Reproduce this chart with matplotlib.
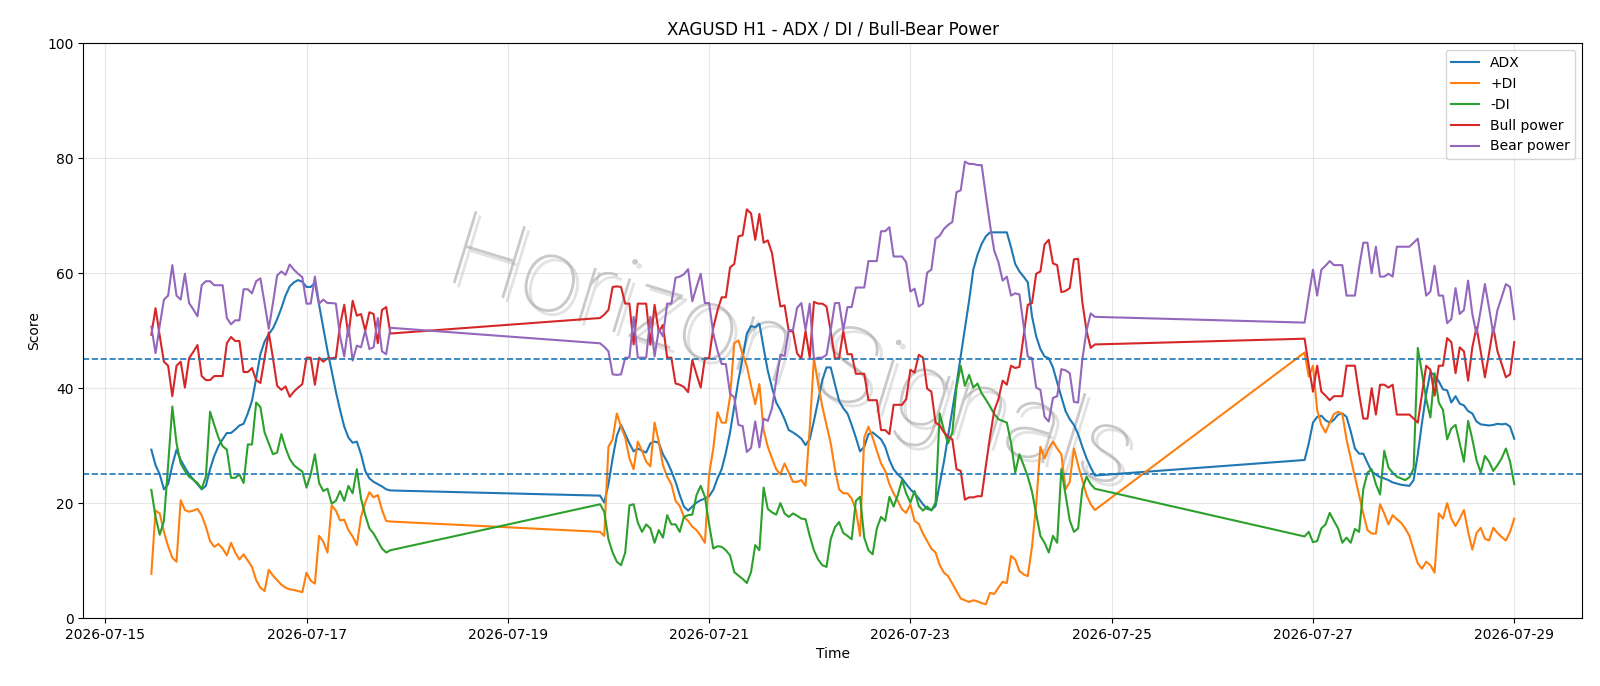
import matplotlib
matplotlib.use("Agg")
import matplotlib.pyplot as plt
import matplotlib.dates as mdates
import matplotlib.patheffects as pe
import pandas as pd

# hourly bars, three trading stretches (weekends have no bars)
times_a = pd.date_range("2026-07-15 11:00", "2026-07-17 20:00", freq="h")
times_b = pd.date_range("2026-07-19 22:00", "2026-07-24 20:00", freq="h")
times_c = pd.date_range("2026-07-26 22:00", "2026-07-29 00:00", freq="h")

adx_a = [29.3, 26.6, 25.0, 22.4, 23.3, 26.6, 29.3, 27.5, 26.2, 25.0,
         24.1, 23.3, 22.4, 23.0, 25.9, 28.2, 29.9, 31.1, 32.2, 32.2,
         32.8, 33.5, 33.8, 35.6, 37.8, 41.7, 45.9, 48.1, 49.4, 50.4,
         52.0, 53.9, 56.1, 57.7, 58.4, 58.8, 58.5, 57.6, 57.6, 58.3,
         54.5, 50.5, 46.5, 43.0, 39.4, 36.2, 33.3, 31.4, 30.5, 30.7,
         28.5, 25.6, 24.3, 23.7, 23.3, 22.9, 22.4, 22.2]
adx_b = [21.3, 20.1, 23.3, 27.8, 31.7, 33.6, 32.0, 30.4, 29.0, 29.5,
         29.1, 28.8, 30.4, 30.7, 30.5, 28.5, 27.2, 25.6, 23.7, 21.4,
         19.4, 18.7, 19.4, 20.1, 20.5, 20.8, 21.2, 22.3, 24.3, 25.9,
         28.8, 32.3, 36.8, 41.4, 45.2, 49.5, 50.8, 50.6, 51.2, 47.0,
         43.0, 40.1, 37.5, 36.2, 34.6, 32.7, 32.3, 31.8, 31.2, 30.1,
         31.1, 34.3, 37.8, 41.4, 43.6, 43.6, 40.7, 37.8, 36.5, 35.6,
         33.6, 31.4, 29.0, 29.8, 32.0, 32.3, 31.7, 31.1, 29.8, 27.5,
         25.9, 25.0, 24.3, 23.3, 22.4, 21.7, 20.8, 19.8, 19.0, 18.8,
         19.5, 23.3, 27.2, 31.7, 36.2, 40.7, 45.5, 50.4, 55.2, 60.6,
         63.2, 65.1, 66.4, 67.1, 67.1, 67.1, 67.1, 67.1, 64.5, 61.6,
         60.3, 59.4, 58.4, 52.5, 49.0, 46.8, 45.5, 45.2, 43.6, 41.0,
         38.5, 36.0, 34.6, 33.6, 32.0, 29.8, 27.8, 26.2, 24.8]
adx_c = [27.5, 30.4, 34.0, 35.0, 35.2, 34.4, 34.0, 34.5, 35.4, 35.6,
         35.0, 32.5, 29.5, 28.6, 28.6, 27.0, 25.5, 25.0, 24.5, 24.3,
         24.0, 23.6, 23.4, 23.2, 23.1, 23.0, 24.0, 28.5, 34.0, 39.0,
         42.8, 42.2, 41.2, 39.8, 39.6, 37.5, 38.6, 37.3, 37.0, 36.0,
         35.6, 34.2, 33.7, 33.6, 33.5, 33.6, 33.8, 33.7, 33.8, 33.3,
         31.2]

plus_di_a = [7.7, 18.7, 18.2, 15.0, 12.5, 10.5, 9.8, 20.5, 18.8, 18.5,
             18.7, 19.0, 17.9, 15.9, 13.4, 12.4, 12.9, 12.1, 10.9, 13.1,
             11.4, 10.2, 11.1, 10.0, 8.9, 6.6, 5.3, 4.7, 8.4, 7.4,
             6.6, 5.8, 5.3, 5.0, 4.9, 4.7, 4.5, 7.9, 6.5, 6.0,
             14.3, 13.3, 11.4, 19.6, 18.7, 17.0, 17.1, 15.3, 14.2, 12.7,
             17.6, 20.1, 21.9, 21.0, 21.4, 18.8, 16.9, 16.8]
plus_di_b = [15.0, 14.3, 29.8, 31.1, 35.6, 33.3, 31.4, 27.8, 25.9, 30.7,
             29.1, 27.2, 26.4, 34.0, 30.7, 26.6, 24.6, 23.3, 20.4, 19.5,
             17.6, 16.9, 15.9, 15.3, 14.3, 13.1, 25.0, 29.5, 35.8, 34.0,
             34.0, 38.5, 47.8, 48.3, 45.9, 43.9, 40.4, 37.2, 40.7, 32.7,
             29.8, 27.8, 25.9, 25.0, 26.9, 25.3, 23.7, 23.7, 24.0, 23.0,
             33.0, 45.2, 40.7, 36.8, 33.6, 30.4, 25.9, 22.4, 21.7, 21.7,
             20.8, 18.8, 14.3, 31.4, 33.3, 31.4, 29.1, 26.9, 25.6, 23.3,
             21.7, 20.4, 18.9, 18.3, 19.8, 16.9, 16.4, 14.7, 13.4, 12.1,
             11.4, 9.2, 7.9, 7.3, 6.0, 4.7, 3.4, 3.1, 2.8, 3.1,
             2.9, 2.6, 2.4, 4.4, 4.2, 5.3, 6.3, 6.1, 10.8, 10.2,
             8.2, 7.6, 7.3, 12.4, 19.8, 29.8, 27.8, 29.5, 30.7, 29.5,
             28.5, 22.4, 23.7, 29.5, 26.6, 24.0, 21.4, 19.8, 18.8]
plus_di_c = [46.2, 42.0, 43.9, 36.2, 33.6, 32.3, 34.0, 35.5, 35.9, 35.5,
             31.1, 27.8, 24.6, 21.4, 18.2, 15.3, 14.7, 14.7, 19.8, 18.2,
             16.3, 17.9, 17.2, 16.6, 15.6, 14.3, 11.8, 9.5, 8.6, 9.8,
             9.2, 7.9, 18.2, 17.3, 20.0, 17.3, 16.0, 17.3, 18.8, 15.0,
             11.9, 14.8, 15.7, 13.8, 13.5, 15.7, 14.8, 14.1, 13.5, 15.0,
             17.3]

minus_di_a = [22.3, 17.6, 14.5, 16.9, 26.6, 36.8, 30.4, 26.9, 25.6, 24.6,
              24.1, 23.5, 22.5, 24.6, 35.9, 33.6, 31.4, 29.9, 29.3, 24.4,
              24.4, 25.0, 23.5, 30.2, 30.2, 37.5, 36.7, 32.3, 30.4, 28.5,
              28.8, 32.0, 29.6, 27.7, 26.6, 26.0, 25.5, 22.7, 25.0, 28.5,
              23.5, 22.1, 22.5, 19.9, 20.4, 22.1, 20.4, 23.0, 21.7, 25.9,
              20.8, 17.9, 15.6, 14.7, 13.4, 12.1, 11.4, 11.8]
minus_di_b = [19.8, 18.5, 13.7, 11.4, 9.8, 9.2, 11.4, 19.6, 19.8, 16.6,
              15.0, 16.3, 15.6, 13.1, 15.3, 14.0, 17.9, 16.3, 16.3, 15.0,
              17.6, 17.9, 18.0, 21.4, 23.0, 21.1, 16.3, 12.1, 12.5, 12.4,
              11.8, 10.9, 8.0, 7.4, 6.8, 6.1, 8.0, 12.7, 11.8, 22.7,
              19.0, 18.4, 18.0, 20.0, 18.2, 17.6, 18.2, 17.8, 17.3, 17.2,
              14.3, 11.8, 10.2, 9.2, 8.9, 13.7, 15.8, 16.7, 14.8, 14.3,
              13.7, 20.4, 21.1, 14.0, 11.8, 11.1, 15.6, 17.6, 16.9, 21.1,
              19.4, 21.4, 24.0, 21.7, 20.1, 22.1, 19.5, 18.7, 19.4, 18.7,
              20.1, 35.6, 32.7, 30.4, 32.3, 40.1, 43.9, 40.4, 42.3, 40.1,
              40.8, 39.1, 38.0, 36.8, 35.5, 34.6, 34.3, 34.0, 30.5, 25.3,
              28.5, 26.6, 24.6, 22.0, 18.2, 14.3, 13.1, 11.4, 14.3, 13.1,
              25.9, 21.5, 17.0, 15.0, 15.6, 22.4, 24.6, 23.3, 22.5]
minus_di_c = [14.2, 15.0, 13.2, 13.4, 15.6, 16.3, 18.3, 16.9, 15.6, 13.1,
              14.0, 13.1, 15.5, 15.0, 22.4, 25.3, 25.9, 23.3, 21.5, 29.1,
              26.2, 25.3, 24.6, 24.3, 24.0, 24.5, 26.0, 47.0, 42.6, 38.1,
              34.9, 42.6, 37.5, 36.2, 31.1, 33.0, 33.6, 30.4, 27.2, 34.3,
              31.1, 27.5, 25.3, 28.2, 27.2, 25.6, 26.6, 27.8, 29.5, 27.2,
              23.3]

bull_a = [49.3, 53.9, 49.1, 44.6, 43.9, 38.6, 43.9, 44.6, 40.1, 45.2,
          46.3, 47.5, 42.1, 41.4, 41.4, 42.1, 42.1, 42.1, 47.8, 48.9,
          48.2, 48.2, 42.8, 42.8, 43.5, 41.4, 40.9, 45.2, 49.7, 45.2,
          40.4, 39.7, 40.3, 38.5, 39.4, 40.1, 40.7, 45.3, 45.3, 40.6,
          45.3, 44.6, 45.2, 45.2, 45.3, 51.0, 54.5, 49.1, 55.2, 52.6,
          52.9, 50.0, 53.2, 52.9, 47.8, 53.6, 54.1, 49.5]
bull_b = [52.2, 52.8, 53.6, 57.6, 57.7, 57.6, 54.7, 54.7, 47.6, 54.7,
          54.7, 54.7, 47.6, 54.5, 49.8, 51.0, 45.3, 45.3, 40.8, 40.6,
          40.2, 39.3, 44.9, 42.4, 40.1, 45.2, 45.2, 50.5, 53.5, 55.8,
          55.8, 61.0, 61.6, 66.4, 66.6, 71.1, 70.4, 65.8, 70.3, 65.3,
          65.7, 63.5, 58.7, 54.2, 54.4, 49.9, 49.9, 46.0, 45.2, 49.9,
          45.3, 55.0, 54.7, 54.7, 54.2, 49.9, 45.2, 45.2, 49.9, 45.9,
          45.9, 42.5, 42.5, 42.5, 37.9, 37.9, 37.9, 32.7, 32.7, 32.0,
          37.1, 37.1, 37.1, 38.1, 43.2, 42.7, 45.8, 45.3, 39.9, 39.4,
          34.0, 33.5, 32.3, 31.6, 31.1, 25.9, 25.6, 20.6, 21.0, 21.0,
          21.2, 21.2, 26.5, 31.6, 36.1, 38.1, 41.3, 40.6, 43.9, 43.5,
          43.7, 49.1, 54.5, 54.8, 59.9, 60.3, 65.0, 65.8, 61.7, 61.4,
          56.7, 56.9, 57.4, 62.4, 62.5, 55.0, 50.0, 47.0, 47.6]
bull_c = [48.6, 43.9, 39.4, 43.9, 39.4, 38.7, 37.9, 38.6, 38.6, 38.6,
          43.9, 43.9, 43.9, 39.0, 34.7, 34.7, 40.0, 35.4, 40.6, 40.6,
          40.1, 40.6, 35.4, 35.4, 35.4, 35.4, 34.7, 34.0, 39.0, 43.9,
          43.2, 38.7, 43.9, 43.9, 48.7, 48.0, 42.6, 47.1, 46.4, 41.3,
          47.1, 50.6, 46.4, 41.9, 46.1, 50.6, 46.4, 44.2, 41.9, 42.4,
          48.0]

bear_a = [50.7, 46.1, 50.9, 55.4, 56.1, 61.4, 56.1, 55.4, 59.9, 54.8,
          53.7, 52.5, 57.9, 58.6, 58.6, 57.9, 57.9, 57.9, 52.2, 51.1,
          51.8, 51.8, 57.2, 57.2, 56.5, 58.6, 59.1, 54.8, 50.3, 54.8,
          59.6, 60.3, 59.7, 61.5, 60.6, 59.9, 59.3, 54.7, 54.7, 59.4,
          54.7, 55.4, 54.8, 54.8, 54.7, 49.0, 45.5, 50.9, 44.8, 47.4,
          47.1, 50.0, 46.8, 47.1, 52.2, 46.4, 45.9, 50.5]
bear_b = [47.8, 47.2, 46.4, 42.4, 42.3, 42.4, 45.3, 45.3, 52.4, 45.3,
          45.3, 45.3, 52.4, 45.5, 50.2, 49.0, 54.7, 54.7, 59.2, 59.4,
          59.8, 60.7, 55.1, 57.6, 59.9, 54.8, 54.8, 49.5, 46.5, 44.2,
          44.2, 39.0, 38.4, 33.6, 33.4, 28.9, 29.6, 34.2, 29.7, 34.7,
          34.3, 36.5, 41.3, 45.8, 45.6, 50.1, 50.1, 54.0, 54.8, 50.1,
          54.7, 45.0, 45.3, 45.3, 45.8, 50.1, 54.8, 54.8, 50.1, 54.1,
          54.1, 57.5, 57.5, 57.5, 62.1, 62.1, 62.1, 67.3, 67.3, 68.0,
          62.9, 62.9, 62.9, 61.9, 56.8, 57.3, 54.2, 54.7, 60.1, 60.6,
          66.0, 66.5, 67.7, 68.4, 68.9, 74.1, 74.4, 79.4, 79.0, 79.0,
          78.8, 78.8, 73.5, 68.4, 63.9, 61.9, 58.7, 59.4, 56.1, 56.5,
          56.3, 50.9, 45.5, 45.2, 40.1, 39.7, 35.0, 34.2, 38.3, 38.6,
          43.3, 43.1, 42.6, 37.6, 37.5, 45.0, 50.0, 53.0, 52.4]
bear_c = [51.4, 56.1, 60.6, 56.1, 60.6, 61.3, 62.1, 61.4, 61.4, 61.4,
          56.1, 56.1, 56.1, 61.0, 65.3, 65.3, 60.0, 64.6, 59.4, 59.4,
          59.9, 59.4, 64.6, 64.6, 64.6, 64.6, 65.3, 66.0, 61.0, 56.1,
          56.8, 61.3, 56.1, 56.1, 51.3, 52.0, 57.4, 52.9, 53.6, 58.7,
          52.9, 49.4, 53.6, 58.1, 53.9, 49.4, 53.6, 55.8, 58.1, 57.6,
          52.0]

times = list(times_a) + list(times_b) + list(times_c)
adx = adx_a + adx_b + adx_c
plus_di = plus_di_a + plus_di_b + plus_di_c
minus_di = minus_di_a + minus_di_b + minus_di_c
bull = bull_a + bull_b + bull_c
bear = bear_a + bear_b + bear_c

fig, ax = plt.subplots(figsize=(16, 6.86), dpi=100)
fig.subplots_adjust(left=0.052, right=0.989, top=0.937, bottom=0.099)

# watermark behind everything
ax.text(0.472, 0.455, "Horizon Signals", transform=ax.transAxes,
        fontsize=76, family=["Roboto", "DejaVu Sans"], fontweight=100,
        color=(0.62, 0.62, 0.62), alpha=0.55, rotation=-17,
        ha="center", va="center", zorder=0,
        path_effects=[pe.withSimplePatchShadow(offset=(3, -3), shadow_rgbFace=(0.75, 0.75, 0.75), alpha=0.45)])

ax.plot(times, adx, label="ADX")
ax.plot(times, plus_di, label="+DI")
ax.plot(times, minus_di, label="-DI")
ax.plot(times, bull, label="Bull power", color="tab:red")
ax.plot(times, bear, label="Bear power", color="tab:purple")

ax.axhline(25, linestyle="--", linewidth=1.2, color="tab:blue")
ax.axhline(45, linestyle="--", linewidth=1.2, color="tab:blue")

ax.set_ylim(0, 100)
ax.set_title("XAGUSD H1 - ADX / DI / Bull-Bear Power")
ax.set_xlabel("Time")
ax.set_ylabel("Score")
ax.xaxis.set_major_locator(mdates.DayLocator(interval=2))
ax.xaxis.set_major_formatter(mdates.DateFormatter("%Y-%m-%d"))
ax.grid(True, alpha=0.3)
ax.legend(loc="upper right")

plt.savefig("out.png")
